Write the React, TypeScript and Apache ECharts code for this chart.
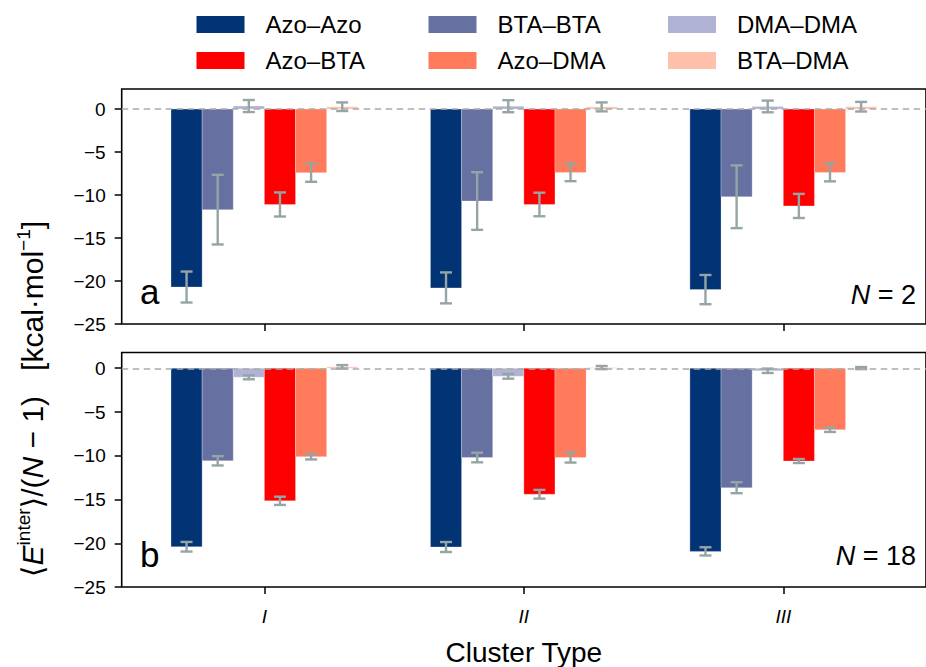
import React, { useEffect, useRef } from "react";
import * as echarts from "echarts";

const FONT = "'Liberation Sans', Arial, 'DejaVu Sans', sans-serif";

const categories = ["I", "II", "III"];
const pairs = ["Azo–Azo", "BTA–BTA", "DMA–DMA", "Azo–BTA", "Azo–DMA", "BTA–DMA"];
const colors = ["#023375", "#6670a1", "#b0b3d3", "#ff0000", "#ff7b5c", "#ffc0ab"];
const tickValues = [-25, -20, -15, -10, -5, 0];

// Panel a (N = 2): mean values and error half-widths, per pair, per cluster type
const azoAzoA = [-20.7, -20.8, -21.0];
const btaBtaA = [-11.7, -10.7, -10.2];
const dmaDmaA = [0.35, 0.33, 0.3];
const azoBtaA = [-11.1, -11.1, -11.27];
const azoDmaA = [-7.4, -7.37, -7.37];
const btaDmaA = [0.27, 0.25, 0.27];
const azoAzoAErr = [1.8, 1.8, 1.7];
const btaBtaAErr = [4.05, 3.35, 3.65];
const dmaDmaAErr = [0.7, 0.7, 0.68];
const azoBtaAErr = [1.4, 1.37, 1.4];
const azoDmaAErr = [1.06, 1.02, 1.04];
const btaDmaAErr = [0.5, 0.52, 0.56];

// Panel b (N = 18)
const azoAzoB = [-20.4, -20.43, -20.93];
const btaBtaB = [-10.58, -10.2, -13.65];
const dmaDmaB = [-1.03, -0.92, -0.29];
const azoBtaB = [-15.15, -14.4, -10.6];
const azoDmaB = [-10.1, -10.2, -7.03];
const btaDmaB = [0.16, 0.08, 0.02];
const azoAzoBErr = [0.55, 0.57, 0.47];
const btaBtaBErr = [0.53, 0.55, 0.63];
const dmaDmaBErr = [0.23, 0.27, 0.25];
const azoBtaBErr = [0.47, 0.5, 0.23];
const azoDmaBErr = [0.32, 0.58, 0.25];
const btaDmaBErr = [0.2, 0.18, 0.12];

const panelValues = [
  [azoAzoA, btaBtaA, dmaDmaA, azoBtaA, azoDmaA, btaDmaA],
  [azoAzoB, btaBtaB, dmaDmaB, azoBtaB, azoDmaB, btaDmaB],
];
const panelErrors = [
  [azoAzoAErr, btaBtaAErr, dmaDmaAErr, azoBtaAErr, azoDmaAErr, btaDmaAErr],
  [azoAzoBErr, btaBtaBErr, dmaDmaBErr, azoBtaBErr, azoDmaBErr, btaDmaBErr],
];

const BAR_W = 0.12;
const ERR_COLOR = "#95a5a6";

const fmtY = (v: number) => {
  const r = Math.round(v);
  if (Math.abs(v - r) > 1e-6 || r > 0) return "";
  return "{m|" + (r < 0 ? "\u2212" + Math.abs(r) : String(r)) + "}";
};

function makeRender(idx: number, color: string) {
  return (params: any, api: any) => {
    const xc = api.value(0) + (idx - 2.5) * BAR_W;
    const v = api.value(1);
    const e = api.value(2);
    const pL = api.coord([xc - BAR_W / 2, 0]);
    const pR = api.coord([xc + BAR_W / 2, v]);
    const top = api.coord([xc, v + e]);
    const bot = api.coord([xc, v - e]);
    const cx = top[0];
    const cap = 6;
    return {
      type: "group",
      children: [
        {
          type: "rect",
          shape: {
            x: pL[0],
            y: Math.min(pL[1], pR[1]),
            width: pR[0] - pL[0],
            height: Math.abs(pR[1] - pL[1]),
          },
          style: { fill: color, stroke: "rgba(255,255,255,0.35)", lineWidth: 0.8 },
        },
        { type: "line", shape: { x1: cx, y1: top[1], x2: cx, y2: bot[1] }, style: { stroke: ERR_COLOR, lineWidth: 2.4 } },
        { type: "line", shape: { x1: cx - cap, y1: top[1], x2: cx + cap, y2: top[1] }, style: { stroke: ERR_COLOR, lineWidth: 2.4 } },
        { type: "line", shape: { x1: cx - cap, y1: bot[1], x2: cx + cap, y2: bot[1] }, style: { stroke: ERR_COLOR, lineWidth: 2.4 } },
      ],
    };
  };
}

export default function App() {
  const ref = useRef<HTMLDivElement>(null);
  useEffect(() => {
    if (!ref.current) return;
    const chart = echarts.init(ref.current, null, { renderer: "svg" });

    const gridLeft = 121.7;
    const gridWidth = 816.4;
    const grids = [
      { left: gridLeft, top: 89, width: gridWidth, height: 235 },
      { left: gridLeft, top: 352.5, width: gridWidth, height: 234.8 },
    ].map((g) => ({ ...g, show: true, borderColor: "#000", borderWidth: 1.6, backgroundColor: "transparent" }));

    const xAxes = [0, 1].map((p) => ({
      type: "value",
      gridIndex: p,
      position: "bottom",
      min: -0.55,
      max: 2.55,
      axisLine: { show: false, onZero: false },
      splitLine: { show: false },
      axisTick: {
        show: true,
        length: 7,
        lineStyle: { color: "#000", width: 1.5 },
        customValues: [0, 1, 2],
      },
      axisLabel: {
        show: p === 1,
        customValues: [0, 1, 2],
        formatter: (v: number) => categories[Math.round(v)] ?? "",
        fontSize: 19,
        fontStyle: "italic",
        color: "#000",
        fontFamily: FONT,
        margin: 20,
      },
      name: p === 1 ? "Cluster Type" : "",
      nameLocation: "middle",
      nameGap: 51,
      nameTextStyle: { fontSize: 28, color: "#000", fontFamily: FONT },
    }));

    const yMax = [2.33, 1.8];
    const yAxes = [0, 1].map((p) => ({
      type: "value",
      gridIndex: p,
      position: "left",
      min: -25,
      max: yMax[p],
      interval: 5,
      axisLine: { show: false, onZero: false },
      splitLine: { show: false },
      axisTick: {
        show: true,
        length: 7,
        lineStyle: { color: "#000", width: 1.5 },
        customValues: tickValues,
      },
      axisLabel: {
        show: true,
        showMaxLabel: false,
        formatter: fmtY,
        fontSize: 19,
        color: "#000",
        fontFamily: FONT,
        margin: 16,
        rich: {
          m: { fontSize: 19, fontFamily: FONT, color: "#000" },
        },
      },
    }));

    const series: any[] = [];
    [0, 1].forEach((p) => {
      pairs.forEach((name, i) => {
        series.push({
          type: "custom",
          name,
          xAxisIndex: p,
          yAxisIndex: p,
          itemStyle: { color: colors[i] },
          encode: { x: 0, y: 1 },
          data: categories.map((c, j) => [j, panelValues[p][i][j], panelErrors[p][i][j]]),
          renderItem: makeRender(i, colors[i]),
          z: 2,
        });
      });
      series.push({
        type: "line",
        name: "zero" + p,
        xAxisIndex: p,
        yAxisIndex: p,
        data: [],
        z: 5,
        markLine: {
          silent: true,
          symbol: "none",
          label: { show: false },
          lineStyle: { type: [6.5, 4.5], color: "#ababab", width: 1.5 },
          data: [{ yAxis: 0 }],
        },
      });
    });

    const legendBase = {
      orient: "vertical",
      top: 12.5,
      padding: 0,
      itemWidth: 48,
      itemHeight: 17,
      itemGap: 12,
      icon: "rect",
      selectedMode: false,
      textStyle: { fontSize: 24, lineHeight: 24, color: "#000", fontFamily: FONT, padding: [0, 0, 0, 16] },
    };

    const option: any = {
      animation: false,
      backgroundColor: "#fff",
      grid: grids,
      xAxis: xAxes,
      yAxis: yAxes,
      legend: [
        { ...legendBase, left: 196.5, data: ["Azo–Azo", "Azo–BTA"] },
        { ...legendBase, left: 428.5, data: ["BTA–BTA", "Azo–DMA"] },
        { ...legendBase, left: 668, data: ["DMA–DMA", "BTA–DMA"] },
      ],
      series,
      graphic: [
        {
          type: "text",
          x: 140,
          y: 291,
          style: { text: "a", fontSize: 35, fontFamily: FONT, fill: "#000", align: "left", verticalAlign: "middle" },
        },
        {
          type: "text",
          x: 140,
          y: 554,
          style: { text: "b", fontSize: 35, fontFamily: FONT, fill: "#000", align: "left", verticalAlign: "middle" },
        },
        {
          type: "text",
          x: 916,
          y: 294.5,
          style: {
            text: "{n|N}{t| = 2}",
            align: "right",
            verticalAlign: "middle",
            rich: {
              n: { fontSize: 27, fontStyle: "italic", fontFamily: FONT, fill: "#000" },
              t: { fontSize: 27, fontFamily: FONT, fill: "#000" },
            },
          },
        },
        {
          type: "text",
          x: 916,
          y: 555.5,
          style: {
            text: "{n|N}{t| = 18}",
            align: "right",
            verticalAlign: "middle",
            rich: {
              n: { fontSize: 27, fontStyle: "italic", fontFamily: FONT, fill: "#000" },
              t: { fontSize: 27, fontFamily: FONT, fill: "#000" },
            },
          },
        },
        {
          type: "text",
          x: 32,
          y: 399,
          rotation: Math.PI / 2,
          style: {
            text: "{a|\u27e8}{e|E}{s|inter}{a|\u27e9/(}{e|N}{a| \u2212 1)   [kcal\u00b7mol}{s|\u22121}{a|]}",
            align: "center",
            verticalAlign: "middle",
            rich: {
              a: { fontSize: 30, fontFamily: FONT, fill: "#000", lineHeight: 36 },
              e: { fontSize: 30, fontStyle: "italic", fontFamily: FONT, fill: "#000", lineHeight: 36 },
              s: { fontSize: 19, fontFamily: FONT, fill: "#000", verticalAlign: "top", lineHeight: 19 },
            },
          },
        },
      ],
    };

    chart.setOption(option);
    return () => chart.dispose();
  }, []);

  return (
    <div
      ref={ref}
      style={{ position: "absolute", left: 0, top: 0, width: 926, height: 667 }}
    />
  );
}
